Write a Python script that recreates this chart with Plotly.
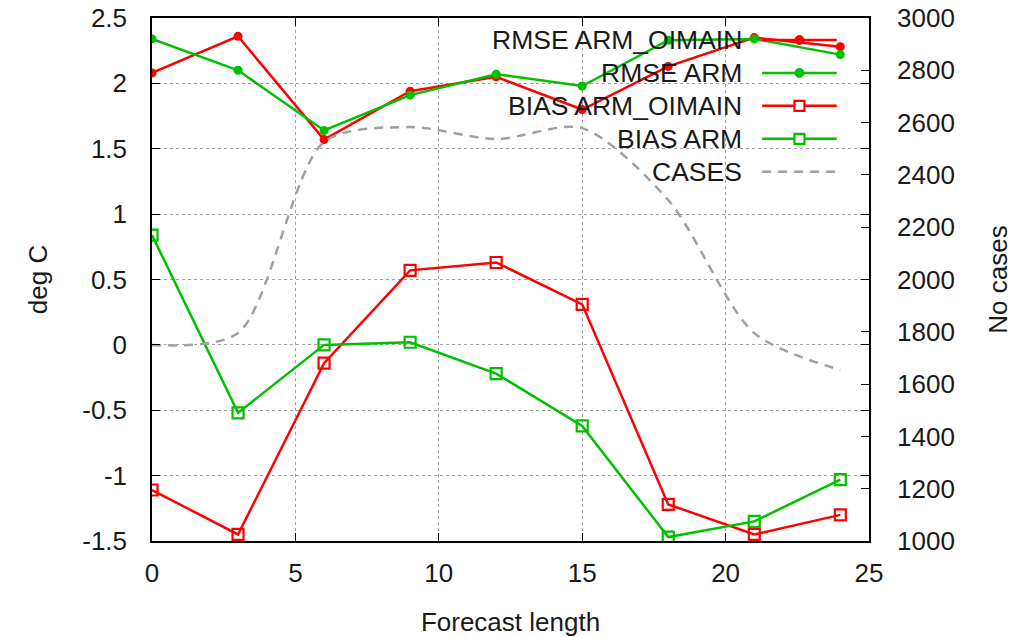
import plotly.graph_objects as go

forecast = [0, 3, 6, 9, 12, 15, 18, 21, 24]
rmse_oimain = [2.08, 2.36, 1.57, 1.94, 2.05, 1.80, 2.13, 2.35, 2.28]
rmse_arm = [2.34, 2.10, 1.64, 1.91, 2.07, 1.98, 2.33, 2.34, 2.22]
bias_oimain = [-1.11, -1.45, -0.14, 0.57, 0.63, 0.31, -1.22, -1.45, -1.30]
bias_arm = [0.84, -0.52, 0.00, 0.02, -0.22, -0.62, -1.47, -1.35, -1.03]
cases = [1750, 1795, 2526, 2583, 2537, 2579, 2304, 1795, 1654]

series_names = ["RMSE ARM_OIMAIN", "RMSE ARM", "BIAS ARM_OIMAIN", "BIAS ARM", "CASES"]

RED = "#ff0000"
GREEN = "#00c000"
GRAY = "#a0a0a0"
FONT = "Liberation Sans, Arial, sans-serif"
FS = 26

fig = go.Figure()

fig.add_trace(go.Scatter(x=forecast, y=cases, yaxis="y2", mode="lines",
                         line=dict(color=GRAY, width=2.5, dash="9px,7px", shape="spline", smoothing=0.8),
                         name=series_names[4], showlegend=False))
fig.add_trace(go.Scatter(x=forecast, y=rmse_oimain, mode="lines+markers",
                         line=dict(color=RED, width=2.5),
                         marker=dict(symbol="circle", size=9, color=RED),
                         name=series_names[0], showlegend=False))
fig.add_trace(go.Scatter(x=forecast, y=rmse_arm, mode="lines+markers",
                         line=dict(color=GREEN, width=2.5),
                         marker=dict(symbol="circle", size=9, color=GREEN),
                         name=series_names[1], showlegend=False))
fig.add_trace(go.Scatter(x=forecast, y=bias_oimain, mode="lines+markers",
                         line=dict(color=RED, width=2.5),
                         marker=dict(symbol="square-open", size=11, color=RED, line=dict(width=2.2, color=RED)),
                         name=series_names[2], showlegend=False))
fig.add_trace(go.Scatter(x=forecast, y=bias_arm, mode="lines+markers",
                         line=dict(color=GREEN, width=2.5),
                         marker=dict(symbol="square-open", size=11, color=GREEN, line=dict(width=2.2, color=GREEN)),
                         name=series_names[3], showlegend=False))

# Custom gnuplot-style key (text right-aligned, sample on the right)
key_rows_y = [0.958, 0.895, 0.832, 0.769, 0.706]
key_colors = [RED, GREEN, RED, GREEN, GRAY]
key_markers = ["circle", "circle", "square", "square", None]
shapes = []
annotations = []
# opaque key background
shapes.append(dict(type="rect", xref="paper", yref="paper", x0=0.483, x1=0.975, y0=0.672, y1=1.0,
                   fillcolor="white", line=dict(width=0), layer="between"))
for name, yy, col, mk in zip(series_names, key_rows_y, key_colors, key_markers):
    annotations.append(dict(xref="paper", yref="paper", x=0.826, y=yy, text=name, showarrow=False,
                            xanchor="right", yanchor="middle", font=dict(family=FONT, size=26.5, color="#1a1a1a")))
    if mk is None:
        shapes.append(dict(type="line", xref="paper", yref="paper", x0=0.851, x1=0.955, y0=yy, y1=yy,
                           line=dict(color=col, width=2.5, dash="9px,7px")))
    else:
        shapes.append(dict(type="line", xref="paper", yref="paper", x0=0.851, x1=0.955, y0=yy, y1=yy,
                           line=dict(color=col, width=2.5)))
        if mk == "circle":
            shapes.append(dict(type="circle", xref="paper", yref="paper", xsizemode="pixel", ysizemode="pixel",
                               xanchor=0.903, yanchor=yy, x0=-4.5, x1=4.5, y0=-4.5, y1=4.5,
                               fillcolor=col, line=dict(color=col, width=1)))
        else:
            shapes.append(dict(type="rect", xref="paper", yref="paper", xsizemode="pixel", ysizemode="pixel",
                               xanchor=0.903, yanchor=yy, x0=-5, x1=5, y0=-5, y1=5,
                               fillcolor="white", line=dict(color=col, width=2.2)))

fig.update_layout(
    width=1033, height=637,
    margin=dict(l=152, r=164, t=18, b=96, autoexpand=False),
    paper_bgcolor="white", plot_bgcolor="white",
    font=dict(family=FONT, size=FS, color="#1a1a1a"),
    showlegend=False,
    shapes=shapes, annotations=annotations,
    xaxis=dict(range=[0, 25], tickmode="array", tickvals=[0, 5, 10, 15, 20, 25],
               ticks="inside", ticklen=8, tickcolor="black", tickwidth=1,
               showline=True, linecolor="black", linewidth=1.5, mirror="ticks",
               showgrid=True, gridcolor=GRAY, griddash="dot", gridwidth=1,
               zeroline=False, ticklabelstandoff=8, automargin=False,
               title=dict(text="Forecast length", standoff=28, font=dict(size=FS))),
    yaxis=dict(range=[-1.5, 2.5], tickmode="array", tickvals=[-1.5, -1, -0.5, 0, 0.5, 1, 1.5, 2, 2.5],
               ticktext=["-1.5", "-1", "-0.5", "0", "0.5", "1", "1.5", "2", "2.5"],
               ticks="inside", ticklen=8, tickcolor="black", tickwidth=1,
               showline=True, linecolor="black", linewidth=1.5, mirror="ticks",
               showgrid=True, gridcolor=GRAY, griddash="dot", gridwidth=1,
               zeroline=False, ticklabelstandoff=18, automargin=False,
               title=dict(text="deg C", standoff=27, font=dict(size=FS))),
    yaxis2=dict(range=[1000, 3000], overlaying="y", side="right",
                tickmode="array", tickvals=list(range(1000, 3001, 200)),
                ticks="inside", ticklen=8, tickcolor="black", tickwidth=1,
                showline=False, showgrid=False, zeroline=False, ticklabelstandoff=27, automargin=False,
                title=dict(text="No cases", standoff=34, font=dict(size=FS))),
)

fig.write_html("out.html", config={"displayModeBar": False},
               post_script="document.body.style.margin='0px';document.body.style.overflow='hidden';")
